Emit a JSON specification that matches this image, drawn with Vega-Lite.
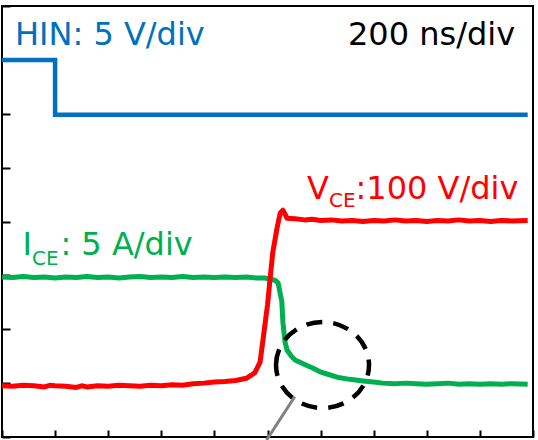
{
  "$schema": "https://vega.github.io/schema/vega-lite/v6.json",
  "width": 531,
  "height": 431,
  "autosize": {"type": "none"},
  "padding": {"left": 2, "top": 6, "right": 5, "bottom": 3},
  "background": "white",
  "config": {
    "view": {"stroke": "black", "strokeWidth": 2},
    "axis": {"grid": false, "labels": false, "domain": false, "title": null, "ticks": true, "tickColor": "black", "tickWidth": 2},
    "axisX": {"tickSize": -7},
    "axisY": {"tickSize": -8}
  },
  "datasets": {
    "traces": [
      {"s": "HIN", "t": 0, "v": 7.0},
      {"s": "HIN", "t": 1.0, "v": 7.0},
      {"s": "HIN", "t": 1.0, "v": 5.98},
      {"s": "HIN", "t": 9.9, "v": 5.98},

      {"s": "VCE", "t": 0.0, "v": 0.95},
      {"s": "VCE", "t": 0.2, "v": 0.94},
      {"s": "VCE", "t": 0.4, "v": 0.96},
      {"s": "VCE", "t": 0.6, "v": 0.95},
      {"s": "VCE", "t": 0.8, "v": 0.93},
      {"s": "VCE", "t": 0.9, "v": 0.96},
      {"s": "VCE", "t": 1.0, "v": 0.95},
      {"s": "VCE", "t": 1.2, "v": 0.94},
      {"s": "VCE", "t": 1.4, "v": 0.92},
      {"s": "VCE", "t": 1.5, "v": 0.95},
      {"s": "VCE", "t": 1.6, "v": 0.93},
      {"s": "VCE", "t": 1.8, "v": 0.95},
      {"s": "VCE", "t": 2.0, "v": 0.94},
      {"s": "VCE", "t": 2.2, "v": 0.96},
      {"s": "VCE", "t": 2.4, "v": 0.95},
      {"s": "VCE", "t": 2.6, "v": 0.94},
      {"s": "VCE", "t": 2.8, "v": 0.96},
      {"s": "VCE", "t": 3.0, "v": 0.95},
      {"s": "VCE", "t": 3.2, "v": 0.97},
      {"s": "VCE", "t": 3.4, "v": 0.96},
      {"s": "VCE", "t": 3.6, "v": 0.99},
      {"s": "VCE", "t": 3.8, "v": 1.0},
      {"s": "VCE", "t": 4.0, "v": 1.02},
      {"s": "VCE", "t": 4.2, "v": 1.03},
      {"s": "VCE", "t": 4.4, "v": 1.05},
      {"s": "VCE", "t": 4.6, "v": 1.09},
      {"s": "VCE", "t": 4.76, "v": 1.19},
      {"s": "VCE", "t": 4.86, "v": 1.39},
      {"s": "VCE", "t": 4.92, "v": 1.84},
      {"s": "VCE", "t": 5.0, "v": 2.45},
      {"s": "VCE", "t": 5.05, "v": 2.95},
      {"s": "VCE", "t": 5.1, "v": 3.43},
      {"s": "VCE", "t": 5.18, "v": 3.88},
      {"s": "VCE", "t": 5.24, "v": 4.16},
      {"s": "VCE", "t": 5.29, "v": 4.21},
      {"s": "VCE", "t": 5.37, "v": 4.06},
      {"s": "VCE", "t": 5.52, "v": 4.05},
      {"s": "VCE", "t": 5.7, "v": 4.03},
      {"s": "VCE", "t": 5.84, "v": 4.04},
      {"s": "VCE", "t": 6.0, "v": 4.02},
      {"s": "VCE", "t": 6.2, "v": 4.03},
      {"s": "VCE", "t": 6.4, "v": 4.01},
      {"s": "VCE", "t": 6.6, "v": 4.02},
      {"s": "VCE", "t": 6.8, "v": 4.0},
      {"s": "VCE", "t": 7.0, "v": 4.02},
      {"s": "VCE", "t": 7.2, "v": 4.01},
      {"s": "VCE", "t": 7.4, "v": 4.03},
      {"s": "VCE", "t": 7.6, "v": 4.01},
      {"s": "VCE", "t": 7.8, "v": 4.02},
      {"s": "VCE", "t": 8.0, "v": 4.0},
      {"s": "VCE", "t": 8.2, "v": 4.02},
      {"s": "VCE", "t": 8.4, "v": 4.01},
      {"s": "VCE", "t": 8.6, "v": 4.03},
      {"s": "VCE", "t": 8.8, "v": 4.01},
      {"s": "VCE", "t": 9.0, "v": 4.02},
      {"s": "VCE", "t": 9.2, "v": 4.0},
      {"s": "VCE", "t": 9.4, "v": 4.02},
      {"s": "VCE", "t": 9.6, "v": 4.01},
      {"s": "VCE", "t": 9.9, "v": 4.02},

      {"s": "ICE", "t": 0.0, "v": 2.97},
      {"s": "ICE", "t": 0.2, "v": 2.96},
      {"s": "ICE", "t": 0.4, "v": 2.98},
      {"s": "ICE", "t": 0.6, "v": 2.96},
      {"s": "ICE", "t": 0.8, "v": 2.97},
      {"s": "ICE", "t": 1.0, "v": 2.95},
      {"s": "ICE", "t": 1.2, "v": 2.97},
      {"s": "ICE", "t": 1.4, "v": 2.96},
      {"s": "ICE", "t": 1.6, "v": 2.98},
      {"s": "ICE", "t": 1.8, "v": 2.96},
      {"s": "ICE", "t": 2.0, "v": 2.97},
      {"s": "ICE", "t": 2.2, "v": 2.95},
      {"s": "ICE", "t": 2.4, "v": 2.97},
      {"s": "ICE", "t": 2.6, "v": 2.98},
      {"s": "ICE", "t": 2.8, "v": 2.96},
      {"s": "ICE", "t": 3.0, "v": 2.97},
      {"s": "ICE", "t": 3.2, "v": 2.96},
      {"s": "ICE", "t": 3.4, "v": 2.98},
      {"s": "ICE", "t": 3.6, "v": 2.96},
      {"s": "ICE", "t": 3.8, "v": 2.97},
      {"s": "ICE", "t": 4.0, "v": 2.96},
      {"s": "ICE", "t": 4.2, "v": 2.97},
      {"s": "ICE", "t": 4.4, "v": 2.96},
      {"s": "ICE", "t": 4.61, "v": 2.97},
      {"s": "ICE", "t": 4.8, "v": 2.95},
      {"s": "ICE", "t": 4.95, "v": 2.95},
      {"s": "ICE", "t": 5.14, "v": 2.91},
      {"s": "ICE", "t": 5.2, "v": 2.86},
      {"s": "ICE", "t": 5.27, "v": 2.51},
      {"s": "ICE", "t": 5.29, "v": 2.13},
      {"s": "ICE", "t": 5.33, "v": 1.76},
      {"s": "ICE", "t": 5.37, "v": 1.61},
      {"s": "ICE", "t": 5.45, "v": 1.5},
      {"s": "ICE", "t": 5.52, "v": 1.43},
      {"s": "ICE", "t": 5.67, "v": 1.36},
      {"s": "ICE", "t": 5.85, "v": 1.28},
      {"s": "ICE", "t": 5.99, "v": 1.21},
      {"s": "ICE", "t": 6.15, "v": 1.16},
      {"s": "ICE", "t": 6.31, "v": 1.11},
      {"s": "ICE", "t": 6.55, "v": 1.07},
      {"s": "ICE", "t": 6.8, "v": 1.04},
      {"s": "ICE", "t": 7.0, "v": 1.02},
      {"s": "ICE", "t": 7.17, "v": 1.0},
      {"s": "ICE", "t": 7.4, "v": 0.99},
      {"s": "ICE", "t": 7.6, "v": 1.0},
      {"s": "ICE", "t": 7.8, "v": 0.99},
      {"s": "ICE", "t": 8.0, "v": 0.98},
      {"s": "ICE", "t": 8.2, "v": 0.99},
      {"s": "ICE", "t": 8.4, "v": 1.0},
      {"s": "ICE", "t": 8.6, "v": 0.98},
      {"s": "ICE", "t": 8.8, "v": 0.99},
      {"s": "ICE", "t": 9.0, "v": 0.98},
      {"s": "ICE", "t": 9.2, "v": 0.99},
      {"s": "ICE", "t": 9.4, "v": 0.98},
      {"s": "ICE", "t": 9.6, "v": 0.99},
      {"s": "ICE", "t": 9.9, "v": 0.98}
    ],
    "labels": [
      {"s": "HIN", "t": 0.245, "v": 7.276, "text": "HIN: 5 V/div"},
      {"s": "time", "t": 6.516, "v": 7.276, "text": "200 ns/div"},
      {"s": "VCE", "t": 5.744, "v": 4.418, "text": "V"},
      {"s": "VCE", "t": 6.657, "v": 4.418, "text": ":100 V/div"},
      {"s": "ICE", "t": 0.384, "v": 3.378, "text": "I"},
      {"s": "ICE", "t": 1.1, "v": 3.378, "text": ": 5 A/div"}
    ],
    "subscripts": [
      {"s": "VCE", "t": 6.158, "v": 4.269, "text": "CE"},
      {"s": "ICE", "t": 0.565, "v": 3.193, "text": "CE"}
    ],
    "marker": [
      {"t": 6.036, "v": 1.336}
    ],
    "leader": [
      {"t": 5.512, "v": 0.748, "t2": 4.983, "v2": -0.056}
    ]
  },
  "encoding": {
    "x": {"field": "t", "type": "quantitative", "scale": {"domain": [0, 10], "nice": false, "zero": false}, "axis": {"values": [0, 1, 2, 3, 4, 5, 6, 7, 8, 9, 10]}},
    "y": {"field": "v", "type": "quantitative", "scale": {"domain": [0, 8], "nice": false, "zero": false}, "axis": {"values": [0, 1, 2, 3, 4, 5, 6, 7, 8]}}
  },
  "layer": [
    {
      "data": {"name": "traces"},
      "transform": [{"filter": "datum.s === 'HIN'"}],
      "mark": {"type": "line", "strokeWidth": 4.5, "strokeJoin": "miter", "clip": true},
      "encoding": {
        "color": {"field": "s", "type": "nominal", "scale": {"domain": ["HIN", "VCE", "ICE", "time"], "range": ["#0070C0", "#FF0000", "#00B050", "#000000"]}, "legend": null},
        "order": {"value": null}
      }
    },
    {
      "data": {"name": "traces"},
      "transform": [{"filter": "datum.s === 'ICE'"}],
      "mark": {"type": "line", "strokeWidth": 5, "strokeJoin": "round"},
      "encoding": {
        "color": {"field": "s", "type": "nominal", "legend": null},
        "order": {"value": null}
      }
    },
    {
      "data": {"name": "marker"},
      "mark": {"type": "point", "shape": "M-1,0A1,0.925,0,1,1,1,0A1,0.925,0,1,1,-1,0Z", "size": 8649, "filled": false, "stroke": "black", "strokeWidth": 4.5, "strokeDash": [16, 11], "opacity": 1}
    },
    {
      "data": {"name": "traces"},
      "transform": [{"filter": "datum.s === 'VCE'"}],
      "mark": {"type": "line", "strokeWidth": 5, "strokeJoin": "round"},
      "encoding": {
        "color": {"field": "s", "type": "nominal", "legend": null},
        "order": {"value": null}
      }
    },
    {
      "data": {"name": "leader"},
      "mark": {"type": "rule", "color": "#808080", "strokeWidth": 3},
      "encoding": {
        "x2": {"field": "t2"},
        "y2": {"field": "v2"}
      }
    },
    {
      "data": {"name": "labels"},
      "mark": {"type": "text", "font": "DejaVu Sans", "fontSize": 32, "align": "left", "baseline": "alphabetic"},
      "encoding": {
        "text": {"field": "text"},
        "color": {"field": "s", "type": "nominal", "legend": null}
      }
    },
    {
      "data": {"name": "subscripts"},
      "mark": {"type": "text", "font": "DejaVu Sans", "fontSize": 20, "align": "left", "baseline": "alphabetic"},
      "encoding": {
        "text": {"field": "text"},
        "color": {"field": "s", "type": "nominal", "legend": null}
      }
    }
  ]
}
